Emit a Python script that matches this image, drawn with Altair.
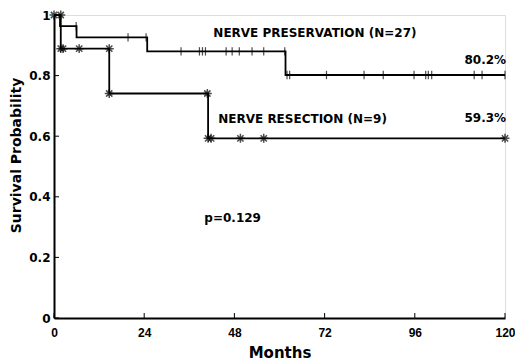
import altair as alt
import pandas as pd

# Kaplan-Meier step curves (month, survival)
pres_t = [0, 1.6, 6.0, 24.8, 61.6, 120]
pres_s = [1.0, 0.963, 0.926, 0.880, 0.802, 0.802]
res_t = [0, 1.8, 14.7, 41.0, 120]
res_s = [1.0, 0.889, 0.741, 0.593, 0.593]

# censor marks, nerve preservation (vertical ticks)
pc_t = [5.9, 19.7, 24.5, 33.8, 38.7, 39.5, 40.3, 45.8, 47.4, 49.3, 52.7, 55.8, 61.4,
        62.0, 62.7, 72.5, 82.5, 87.6, 95.8, 98.9, 99.6, 100.5, 111.8, 113.9, 120]
pc_s = [0.963, 0.926, 0.926, 0.880, 0.880, 0.880, 0.880, 0.880, 0.880, 0.880, 0.880, 0.880, 0.880,
        0.802, 0.802, 0.802, 0.802, 0.802, 0.802, 0.802, 0.802, 0.802, 0.802, 0.802, 0.802]

# star marks, nerve resection
rc_t = [0, 1.8, 1.8, 2.4, 6.7, 14.7, 14.7, 40.8, 41.0, 41.8, 49.6, 55.8, 120]
rc_s = [1.0, 1.0, 0.889, 0.889, 0.889, 0.889, 0.741, 0.741, 0.593, 0.593, 0.593, 0.593, 0.593]

x_ticks = [0, 24, 48, 72, 96, 120]
y_ticks = [0, 0.2, 0.4, 0.6, 0.8, 1]

lab_text = ["NERVE PRESERVATION (N=27)", "NERVE RESECTION (N=9)", "p=0.129"]
lab_x = [42.4, 43.7, 40.0]
lab_y = [0.941, 0.657, 0.33]
pct_text = ["80.2%", "59.3%"]
pct_x = [120.3, 120.3]
pct_y = [0.852, 0.66]

FONT = "Liberation Sans"
BFONT = "DejaVu Sans"

curves = pd.DataFrame({
    "t": pres_t + res_t,
    "s": pres_s + res_s,
    "g": ["pres"] * len(pres_t) + ["res"] * len(res_t),
})
pc = pd.DataFrame({"t": pc_t, "s": pc_s})
rc = pd.DataFrame({"t": rc_t, "s": rc_s})
labs = pd.DataFrame({"t": lab_x, "s": lab_y, "txt": lab_text})
pcts = pd.DataFrame({"t": pct_x, "s": pct_y, "txt": pct_text})
xt = pd.DataFrame({"t": x_ticks})
yt = pd.DataFrame({"s": y_ticks})

xs = alt.Scale(domain=[0, 120], nice=False, zero=False)
ys = alt.Scale(domain=[0, 1], nice=False)

X = alt.X("t:Q", scale=xs, axis=alt.Axis(
    values=x_ticks, title="Months", grid=False, tickSize=0, labelPadding=9, labelFlush=False,
    labelFont=FONT, labelFontWeight="bold", labelFontSize=12, labelColor="black",
    titleFont=BFONT, titleFontWeight="bold", titleFontSize=15, titleColor="black",
    titlePadding=7, domainColor="black", domainWidth=2))
Y = alt.Y("s:Q", scale=ys, axis=alt.Axis(
    values=y_ticks, title="Survival Probability", grid=False, tickSize=0, labelPadding=4,
    labelFlush=False,
    labelFont=BFONT, labelFontWeight="bold", labelFontSize=12, labelColor="black",
    labelExpr="datum.value == 0 ? '0' : datum.value == 1 ? '1' : format(datum.value, '.1f')",
    titleFont=BFONT, titleFontWeight="bold", titleFontSize=14, titleColor="black",
    titleBaseline="middle", titleX=-38, titleY=140, domainColor="black", domainWidth=2))

lines = alt.Chart(curves).mark_line(interpolate="step-after", color="black", strokeWidth=1.8).encode(
    x=X, y=Y, detail="g:N")

ticks = alt.Chart(pc).mark_point(shape="M0,-1L0,1", size=70, color="black", strokeWidth=1.2,
                                 filled=False).encode(x="t:Q", y="s:Q")

STAR = "M-1,0L1,0M0,-1L0,1M-0.7,-0.7L0.7,0.7M-0.7,0.7L0.7,-0.7"
stars = alt.Chart(rc).mark_point(shape=STAR, size=80, color="black", strokeWidth=1.5,
                                 filled=False).encode(x="t:Q", y="s:Q")

labels = alt.Chart(labs).mark_text(align="left", baseline="middle", font=BFONT, fontWeight="bold",
                                   fontSize=12, color="black").encode(x="t:Q", y="s:Q", text="txt:N")
pctl = alt.Chart(pcts).mark_text(align="right", baseline="middle", font=BFONT, fontWeight="bold",
                                 fontSize=12, color="black").encode(x="t:Q", y="s:Q", text="txt:N")

xtick = alt.Chart(xt).mark_rule(color="black", strokeWidth=1).encode(
    x="t:Q", y=alt.value(303), y2=alt.value(298))
ytick = alt.Chart(yt).mark_rule(color="black", strokeWidth=1).encode(
    y="s:Q", x=alt.value(0), x2=alt.value(5))

chart = alt.layer(lines, xtick, ytick, ticks, stars, labels, pctl).properties(
    width=451, height=303,
    autosize=alt.AutoSizeParams(type="none"),
    padding={"left": 54, "top": 15, "right": 10, "bottom": 46},
).configure_view(stroke=None).configure(background="white")

chart.save("out.html", embed_options={"renderer": "svg", "actions": False})
